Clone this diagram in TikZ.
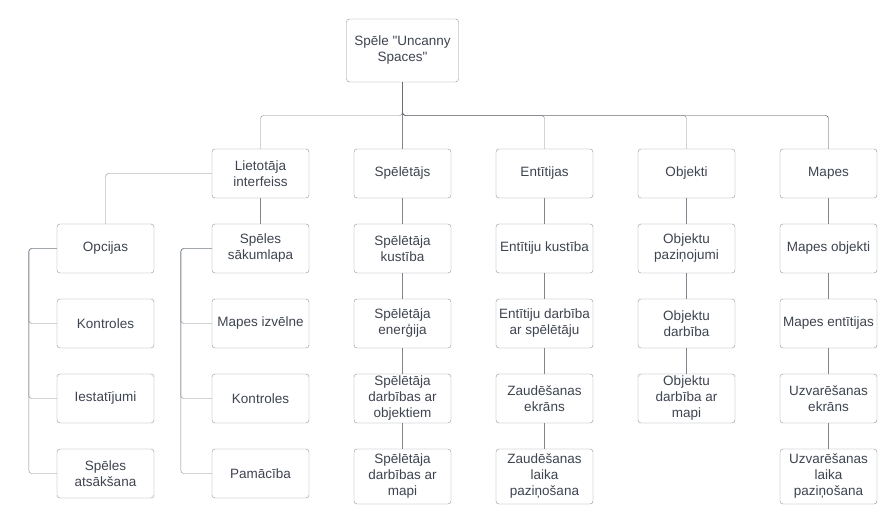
\documentclass[tikz,border=0pt]{standalone}
\usepackage{fontspec}
\setmainfont{Liberation Sans}[Ligatures=TeXOff]
\usetikzlibrary{positioning, calc}

\definecolor{boxline}{HTML}{8D929B}
\definecolor{boxtext}{HTML}{3E4450}
\definecolor{linkline}{HTML}{80858E}
\definecolor{linkdark}{HTML}{3A3E45}

\begin{document}
\begin{tikzpicture}[node distance=75pt and 142pt, on grid,
        box/.style={draw=boxline, fill=white, rounded corners=3pt, text=boxtext, align=center,
            minimum width=97pt, minimum height=49pt, inner xsep=2pt, inner ysep=0pt,
            font=\fontsize{13.5}{16}\selectfont},
        tall/.style={minimum height=55pt, yshift=-3pt},
        link/.style={draw=linkline, rounded corners=3pt}]
        \useasboundingbox (0,0) rectangle (889pt,-522pt);

        % first level
        \node[box]  (ui)      at (260.5pt,-173.5pt)   {Lietotāja\\interfeiss};
        \node[box]  (player)  [right=of ui]           {Spēlētājs};
        \node[box]  (entity)  [right=of player]       {Entītijas};
        \node[box]  (object)  [right=of entity]       {Objekti};
        \node[box]  (maps)    [right=of object]       {Mapes};
        \node[box, minimum width=112pt, minimum height=63pt] (root) [above=123pt of player] {Spēle "Uncanny\\Spaces"};

        % user interface
        \node[box]  (start)    [below=of ui]          {Spēles\\sākumlapa};
        \node[box]  (mapmenu)  [below=of start]       {Mapes izvēlne};
        \node[box]  (ctrl)     [below=of mapmenu]     {Kontroles};
        \node[box]  (tutorial) [below=of ctrl]        {Pamācība};
        \node[box]  (options)  [left=155pt of start]  {Opcijas};
        \node[box]  (optctrl)  [below=of options]     {Kontroles};
        \node[box]  (settings) [below=of optctrl]     {Iestatījumi};
        \node[box]  (restart)  [below=of settings]    {Spēles\\atsākšana};

        % player
        \node[box]  (plmove)   [below=of player]      {Spēlētāja\\kustība};
        \node[box]  (plenergy) [below=of plmove]      {Spēlētāja\\enerģija};
        \node[box]  (plobj)    [below=of plenergy]    {Spēlētāja\\darbības ar\\objektiem};
        \node[box, tall] (plmap) [below=of plobj]     {Spēlētāja\\darbības ar\\mapi};

        % entities
        \node[box]  (enmove)   [below=of entity]      {Entītiju kustība};
        \node[box]  (enplayer) [below=of enmove]      {Entītiju darbība\\ar spēlētāju};
        \node[box]  (loss)     [below=of enplayer]    {Zaudēšanas\\ekrāns};
        \node[box, tall] (losstime) [below=of loss]   {Zaudēšanas\\laika\\paziņošana};

        % objects
        \node[box]  (obnote)   [below=of object]      {Objektu\\paziņojumi};
        \node[box]  (obact)    [below=of obnote]      {Objektu\\darbība};
        \node[box]  (obmap)    [below=of obact]       {Objektu\\darbība ar\\mapi};

        % maps
        \node[box]  (mpobj)    [below=of maps]        {Mapes objekti};
        \node[box]  (mpent)    [below=of mpobj]       {Mapes entītijas};
        \node[box]  (win)      [below=of mpent]       {Uzvarēšanas\\ekrāns};
        \node[box, tall] (wintime) [below=of win]     {Uzvarēšanas\\laika\\paziņošana};

        % connectors
        \coordinate (bus) at ($(root.south)!.5!(player.north)$);
        \foreach \c in {ui, entity, object}
            \draw[link] (root.south) |- (bus -| \c) -- (\c.north);
        \draw[link] (root) -- (player);
        \draw[link, draw=linkdark] (root.south) |- (bus -| maps) -- (maps.north);

        \draw[link] (ui.west) -| (options.north);
        \draw[link] (ui) -- (start);
        \foreach \c in {optctrl, settings, restart}
            \draw[link] (options.west) -- ++(-28pt,0) |- (\c.west);
        \foreach \c in {mapmenu, ctrl, tutorial}
            \draw[link] (start.west) -- ++(-31pt,0) |- (\c.west);

        \foreach \a/\b in {player/plmove, plmove/plenergy, plenergy/plobj, plobj/plmap,
            entity/enmove, enmove/enplayer, enplayer/loss, loss/losstime,
            object/obnote, obnote/obact, obact/obmap,
            maps/mpobj, mpobj/mpent, mpent/win, win/wintime}
            \draw[link] (\a) -- (\b);
\end{tikzpicture}
\end{document}
